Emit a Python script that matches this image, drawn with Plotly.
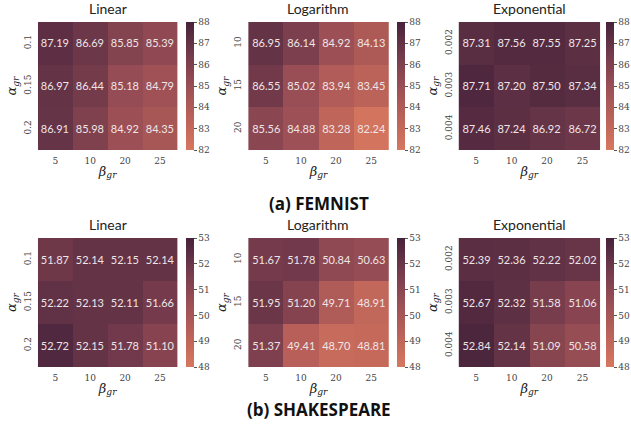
import plotly.graph_objects as go

W, H = 631, 430

beta_ticks = ["5", "10", "20", "25"]
alpha_linear = ["0.1", "0.15", "0.2"]
alpha_log = ["10", "15", "20"]
alpha_exp = ["0.002", "0.003", "0.004"]

femnist_linear = [[87.19, 86.69, 85.85, 85.39],
                  [86.97, 86.44, 85.18, 84.79],
                  [86.91, 85.98, 84.92, 84.35]]
femnist_log = [[86.95, 86.14, 84.92, 84.13],
               [86.55, 85.02, 83.94, 83.45],
               [85.56, 84.88, 83.28, 82.24]]
femnist_exp = [[87.31, 87.56, 87.55, 87.25],
               [87.71, 87.20, 87.50, 87.34],
               [87.46, 87.24, 86.92, 86.72]]

shakes_linear = [[51.87, 52.14, 52.15, 52.14],
                 [52.22, 52.13, 52.11, 51.66],
                 [52.72, 52.15, 51.78, 51.10]]
shakes_log = [[51.67, 51.78, 50.84, 50.63],
              [51.95, 51.20, 49.71, 48.91],
              [51.37, 49.41, 48.70, 48.81]]
shakes_exp = [[52.39, 52.36, 52.22, 52.02],
              [52.67, 52.32, 51.58, 51.06],
              [52.84, 52.14, 51.09, 50.58]]

titles = ["Linear", "Logarithm", "Exponential"]
captions = ["<b>(a) FEMNIST</b>", "<b>(b) SHAKESPEARE</b>"]
femnist_ticks = [82, 83, 84, 85, 86, 87, 88]
shakes_ticks = [48, 49, 50, 51, 52, 53]

colorscale = [
    [0.0, "#d6775f"],
    [0.25, "#bb6259"],
    [0.5, "#9a4e55"],
    [0.75, "#723a4b"],
    [1.0, "#46233b"],
]

# panel geometry in pixels: (left, right) per column, (top, bottom) per row
cols_px = [(38, 178), (249, 390), (460, 602)]
cbar_px = [187, 398, 608]
rows_px = [(22, 150), (238, 367)]

rows = [
    ([femnist_linear, femnist_log, femnist_exp], (82, 88), femnist_ticks),
    ([shakes_linear, shakes_log, shakes_exp], (48, 53), shakes_ticks),
]
alpha_sets = [alpha_linear, alpha_log, alpha_exp]

serif = "DejaVu Serif"
sans = "Lato"

fig = go.Figure()
layout = {}
annotations = []

idx = 0
for r, (mats, (zmin, zmax), cticks) in enumerate(rows):
    top, bot = rows_px[r]
    y0 = 1 - bot / H
    y1 = 1 - top / H
    for c in range(3):
        idx += 1
        xl, xr = cols_px[c]
        xa = "xaxis" if idx == 1 else f"xaxis{idx}"
        ya = "yaxis" if idx == 1 else f"yaxis{idx}"
        xref = "x" if idx == 1 else f"x{idx}"
        yref = "y" if idx == 1 else f"y{idx}"
        fig.add_trace(go.Heatmap(
            z=mats[c], x=beta_ticks, y=alpha_sets[c],
            xaxis=xref, yaxis=yref,
            zmin=zmin, zmax=zmax, colorscale=colorscale,
            texttemplate="%{z:.2f}",
            textfont=dict(family=sans, size=11, color="#efe5e7"),
            hoverinfo="skip",
            colorbar=dict(
                x=cbar_px[c] / W, xanchor="left", xpad=0,
                y=(y0 + y1) / 2, yanchor="middle",
                len=bot - top, lenmode="pixels",
                thickness=8, thicknessmode="pixels",
                outlinewidth=0, ypad=0,
                tickvals=cticks, ticks="outside", ticklen=3, tickwidth=1,
                tickcolor="#555", tickfont=dict(family=serif, size=9, color="#444"),
            ),
        ))
        layout[xa] = dict(
            domain=[xl / W, xr / W], anchor=yref, type="category",
            showgrid=False, zeroline=False, showline=False, ticks="",
            ticklabelstandoff=4,
            tickfont=dict(family=serif, size=9, color="#444"),
            title=dict(text="<i>β</i><sub><i>gr</i></sub>",
                       font=dict(family=serif, size=13, color="#222"), standoff=1),
        )
        layout[ya] = dict(
            domain=[y0, y1], anchor=xref, type="category", autorange="reversed",
            showgrid=False, zeroline=False, showline=False, ticks="",
            tickangle=-90, ticklabelstandoff=4,
            tickfont=dict(family=serif, size=9, color="#444"),
            title=dict(text="<i>α</i><sub><i>gr</i></sub>",
                       font=dict(family=serif, size=13, color="#222"), standoff=3),
        )
        annotations.append(dict(
            text=titles[c], xref="paper", yref="paper",
            x=(xl + xr) / 2 / W, y=1 - (top - 3) / H,
            xanchor="center", yanchor="bottom", showarrow=False,
            font=dict(family=sans, size=14, color="#222"),
        ))

annotations.append(dict(text=captions[0], xref="paper", yref="paper",
                        x=320 / W, y=1 - 203 / H, xanchor="center", yanchor="middle",
                        showarrow=False, font=dict(family="Open Sans", size=17, color="#111")))
annotations.append(dict(text=captions[1], xref="paper", yref="paper",
                        x=320 / W, y=1 - 409 / H, xanchor="center", yanchor="middle",
                        showarrow=False, font=dict(family="Open Sans", size=17, color="#111")))

fig.update_layout(
    width=W, height=H,
    margin=dict(l=0, r=0, t=0, b=0),
    paper_bgcolor="white", plot_bgcolor="white",
    annotations=annotations,
    **layout,
)

fig.write_html("out.html")
